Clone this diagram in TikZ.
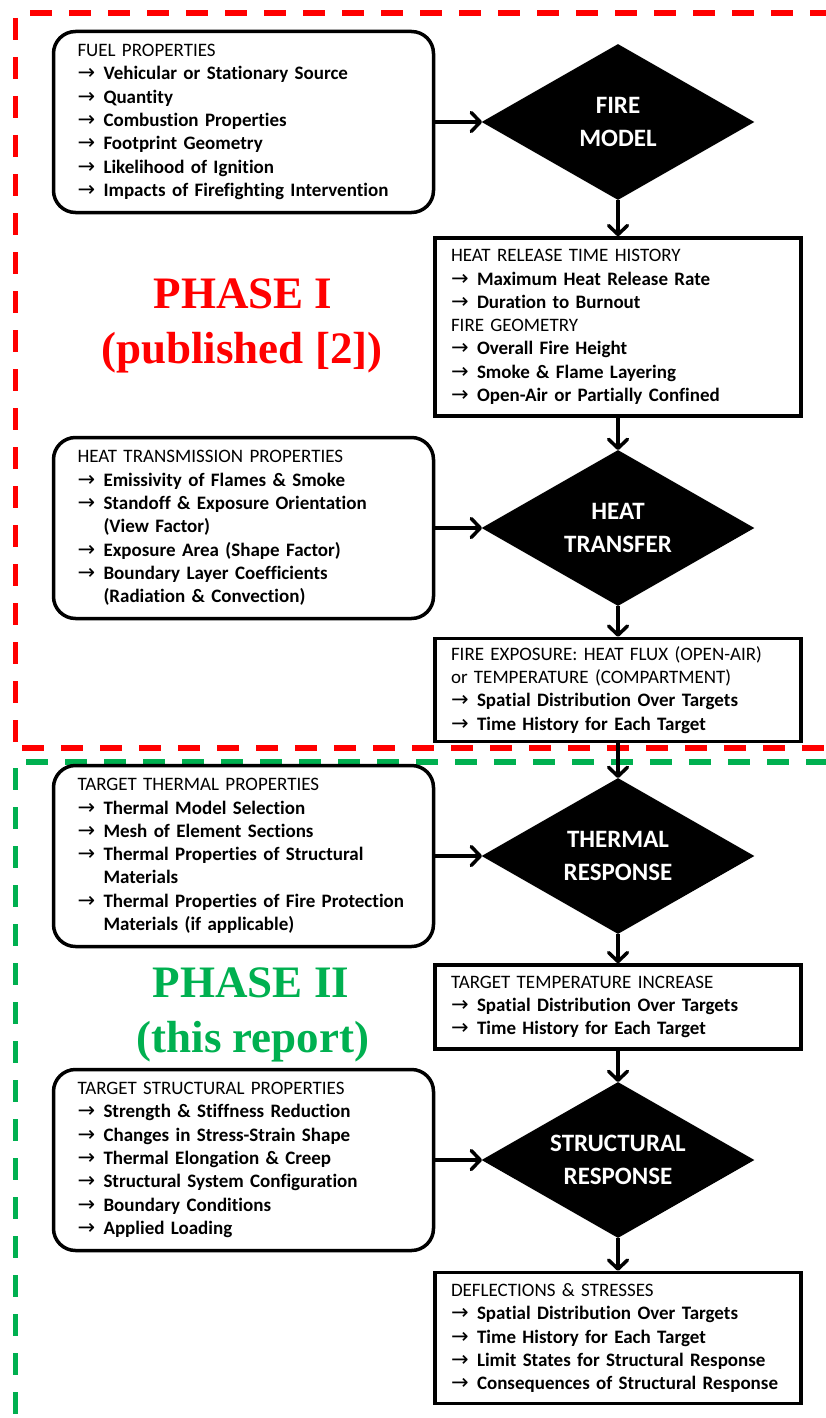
\documentclass[tikz,border=0pt]{standalone}
\usepackage{fontspec}
\setmainfont{Carlito}[Ligatures=NoCommon]
\newfontfamily\phasefont{Liberation Serif}
\newfontfamily\arrowfont{DejaVu Sans}
\usetikzlibrary{arrows.meta,positioning,shapes.geometric}
\definecolor{phaseone}{RGB}{255,0,0}
\definecolor{phasetwo}{RGB}{0,176,80}
\newcommand{\itm}[1]{\makebox[26pt][l]{\arrowfont\fontsize{21}{21}\selectfont →}\textbf{#1}}
\newcommand{\cnt}[1]{\hspace*{26pt}\textbf{#1}}

\begin{document}
\begin{tikzpicture}[x=1pt,y=-1pt,
  infobox/.style={rectangle,draw=black,line width=3.5pt,align=left,inner ysep=0pt,
                  font=\fontsize{19}{23.3}\selectfont},
  propbox/.style={infobox,rounded corners=22pt,text width=332pt,inner xsep=24pt,minimum height=181pt},
  resbox/.style={infobox,text width=334pt,inner xsep=16pt},
  model/.style={diamond,aspect=1.76,fill=black,draw=black,line width=1pt,text=white,
                minimum width=271pt,minimum height=155pt,inner sep=0pt,align=center,
                font=\fontsize{25}{33}\selectfont\bfseries},
  flow/.style={line width=3.5pt,-{Straight Barb[length=9pt,width=19pt,round]}},
  phasedash/.style={line width=5.5pt,dash pattern=on 22pt off 17pt},
  phaselbl/.style={anchor=base,font=\phasefont\bfseries\fontsize{45}{55}\selectfont}
]
\useasboundingbox (0,0) rectangle (825,1418);
\draw[phasedash,phaseone] (30,13) -- (840,13);
\draw[phasedash,phaseone] (15.5,18) -- (15.5,747);
\draw[phasedash,phaseone] (22,748) -- (840,748);
\draw[phasedash,phasetwo] (26,762) -- (840,762);
\draw[phasedash,phasetwo] (15.5,768) -- (15.5,1425);
\node[propbox] (fuel) at (243.5,122) {FUEL PROPERTIES\\
  \itm{Vehicular or Stationary Source}\\ \itm{Quantity}\\ \itm{Combustion Properties}\\
  \itm{Footprint Geometry}\\ \itm{Likelihood of Ignition}\\ \itm{Impacts of Firefighting Intervention}};
\node[model] (firemodel) at (618,122) {FIRE\\MODEL};
\node[resbox,minimum height=178pt] (hrr) at (618,327) {HEAT RELEASE TIME HISTORY\\
  \itm{Maximum Heat Release Rate}\\ \itm{Duration to Burnout}\\ FIRE GEOMETRY\\
  \itm{Overall Fire Height}\\ \itm{Smoke \& Flame Layering}\\ \itm{Open-Air or Partially Confined}};
\node[propbox] (transm) at (243.5,528) {HEAT TRANSMISSION PROPERTIES\\
  \itm{Emissivity of Flames \& Smoke}\\ \itm{Standoff \& Exposure Orientation}\\ \cnt{(View Factor)}\\
  \itm{Exposure Area (Shape Factor)}\\ \itm{Boundary Layer Coefficients}\\ \cnt{(Radiation \& Convection)}};
\node[model] (heattr) at (618,528) {HEAT\\TRANSFER};
\node[resbox,minimum height=103pt] (expo) at (618,690) {FIRE EXPOSURE: HEAT FLUX (OPEN-AIR)\\
  or TEMPERATURE (COMPARTMENT)\\ \itm{Spatial Distribution Over Targets}\\ \itm{Time History for Each Target}};
\node[propbox] (thermprop) at (243.5,856) {TARGET THERMAL PROPERTIES\\
  \itm{Thermal Model Selection}\\ \itm{Mesh of Element Sections}\\ \itm{Thermal Properties of Structural}\\
  \cnt{Materials}\\ \itm{Thermal Properties of Fire Protection}\\ \cnt{Materials (if applicable)}};
\node[model] (thermresp) at (618,856) {THERMAL\\RESPONSE};
\node[resbox,minimum height=84pt] (temp) at (618,1007) {TARGET TEMPERATURE INCREASE\\
  \itm{Spatial Distribution Over Targets}\\ \itm{Time History for Each Target}};
\node[propbox] (structprop) at (243.5,1160) {TARGET STRUCTURAL PROPERTIES\\
  \itm{Strength \& Stiffness Reduction}\\ \itm{Changes in Stress-Strain Shape}\\ \itm{Thermal Elongation \& Creep}\\
  \itm{Structural System Configuration}\\ \itm{Boundary Conditions}\\ \itm{Applied Loading}};
\node[model] (structresp) at (618,1160) {STRUCTURAL\\RESPONSE};
\node[resbox,minimum height=131pt] (defl) at (618,1338) {DEFLECTIONS \& STRESSES\\
  \itm{Spatial Distribution Over Targets}\\ \itm{Time History for Each Target}\\
  \itm{Limit States for Structural Response}\\ \itm{Consequences of Structural Response}};
\node[phaselbl,text=phaseone] (phaseI) at (243,308) {PHASE I};
\node[phaselbl,text=phaseone] (phaseIsub) at (242,363) {(published [2])};
\node[phaselbl,text=phasetwo] (phaseII) at (251,997) {PHASE II};
\node[phaselbl,text=phasetwo] (phaseIIsub) at (253,1052) {(this report)};
\draw[flow] (fuel) -- (firemodel);
\draw[flow] (firemodel) -- (hrr);
\draw[flow] (hrr) -- (heattr);
\draw[flow] (transm) -- (heattr);
\draw[flow] (heattr) -- (expo);
\draw[flow] (expo) -- (thermresp);
\draw[flow] (thermprop) -- (thermresp);
\draw[flow] (thermresp) -- (temp);
\draw[flow] (temp) -- (structresp);
\draw[flow] (structprop) -- (structresp);
\draw[flow] (structresp) -- (defl);
\end{tikzpicture}
\end{document}
